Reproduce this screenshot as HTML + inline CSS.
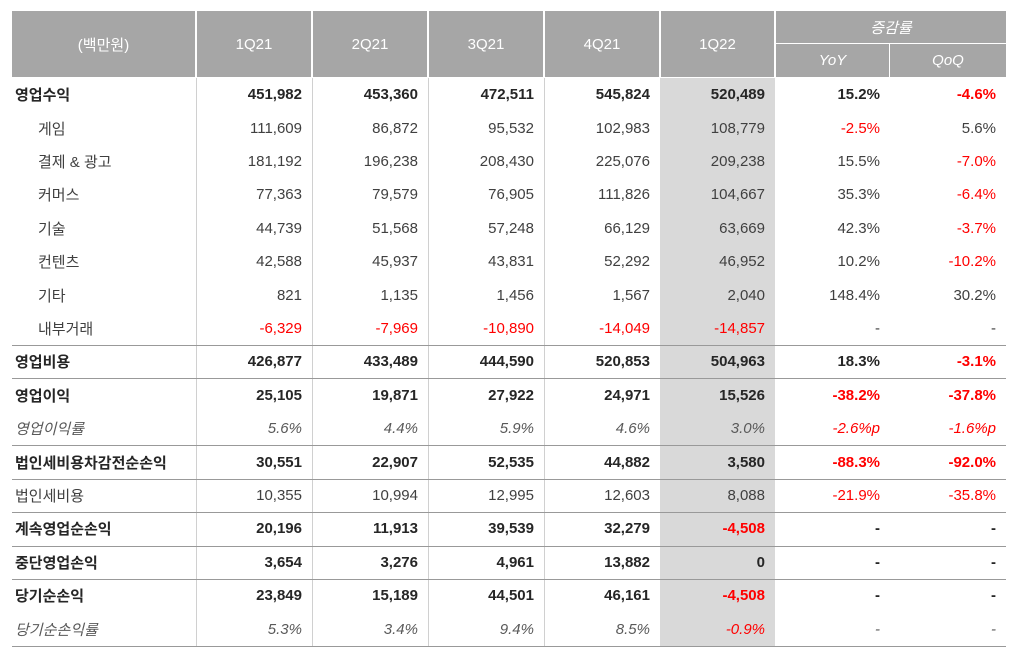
<!DOCTYPE html>
<html><head><meta charset="utf-8"><style>
body{margin:0;width:1013px;height:653px;background:#fff;font-family:"Liberation Sans","Noto Sans CJK KR",sans-serif;position:relative;overflow:hidden;color:#404040}
.hd{position:absolute;background:#a6a6a6;color:#fff;font-size:15px;display:flex;align-items:center;justify-content:center}
.gray{position:absolute;left:660px;top:78px;width:115px;height:568px;background:#d9d9d9}
.vl{position:absolute;top:78px;width:1px;height:568px;background:#d0d0d0}
.row{position:absolute;left:12px;width:994px;height:33.4px;display:flex;font-size:15px;align-items:center}
.row div{box-sizing:border-box;text-align:right;padding-right:10px}
.row div:first-child{width:184px;text-align:left;padding-left:3px}
.row div:nth-child(2),.row div:nth-child(3),.row div:nth-child(4),.row div:nth-child(5),.row div:nth-child(8){width:116px}
.row div:nth-child(6),.row div:nth-child(7){width:115px}
.b{font-weight:bold;color:#262626}
.s div:first-child{padding-left:26px}
.i{font-style:italic;color:#595959}
.r{color:#f00}
.hl{position:absolute;left:12px;width:994px;height:1px;background:#999}
</style></head><body>
<div class="hd" style="left:12px;top:11px;width:183px;height:66px">(백만원)</div>
<div class="hd" style="left:197px;top:11px;width:114px;height:66px">1Q21</div>
<div class="hd" style="left:313px;top:11px;width:114px;height:66px">2Q21</div>
<div class="hd" style="left:429px;top:11px;width:114px;height:66px">3Q21</div>
<div class="hd" style="left:545px;top:11px;width:114px;height:66px">4Q21</div>
<div class="hd" style="left:661px;top:11px;width:113px;height:66px">1Q22</div>
<div class="hd" style="left:776px;top:11px;width:230px;height:32px;font-style:italic">증감률</div>
<div class="hd" style="left:776px;top:44px;width:113px;height:33px;font-style:italic">YoY</div>
<div class="hd" style="left:890px;top:44px;width:116px;height:33px;font-style:italic">QoQ</div>
<div class="gray"></div>
<div class="vl" style="left:196px"></div><div class="vl" style="left:312px"></div><div class="vl" style="left:428px"></div><div class="vl" style="left:544px"></div>
<div class="row b" style="top:78px"><div>영업수익</div><div>451,982</div><div>453,360</div><div>472,511</div><div>545,824</div><div>520,489</div><div>15.2%</div><div class="r">-4.6%</div></div>
<div class="row s" style="top:111.4px"><div>게임</div><div>111,609</div><div>86,872</div><div>95,532</div><div>102,983</div><div>108,779</div><div class="r">-2.5%</div><div>5.6%</div></div>
<div class="row s" style="top:144.8px"><div>결제 &amp; 광고</div><div>181,192</div><div>196,238</div><div>208,430</div><div>225,076</div><div>209,238</div><div>15.5%</div><div class="r">-7.0%</div></div>
<div class="row s" style="top:178.2px"><div>커머스</div><div>77,363</div><div>79,579</div><div>76,905</div><div>111,826</div><div>104,667</div><div>35.3%</div><div class="r">-6.4%</div></div>
<div class="row s" style="top:211.6px"><div>기술</div><div>44,739</div><div>51,568</div><div>57,248</div><div>66,129</div><div>63,669</div><div>42.3%</div><div class="r">-3.7%</div></div>
<div class="row s" style="top:245px"><div>컨텐츠</div><div>42,588</div><div>45,937</div><div>43,831</div><div>52,292</div><div>46,952</div><div>10.2%</div><div class="r">-10.2%</div></div>
<div class="row s" style="top:278.4px"><div>기타</div><div>821</div><div>1,135</div><div>1,456</div><div>1,567</div><div>2,040</div><div>148.4%</div><div>30.2%</div></div>
<div class="row s" style="top:311.8px"><div>내부거래</div><div class="r">-6,329</div><div class="r">-7,969</div><div class="r">-10,890</div><div class="r">-14,049</div><div class="r">-14,857</div><div>-</div><div>-</div></div>
<div class="hl" style="top:345px"></div>
<div class="row b" style="top:345.2px"><div>영업비용</div><div>426,877</div><div>433,489</div><div>444,590</div><div>520,853</div><div>504,963</div><div>18.3%</div><div class="r">-3.1%</div></div>
<div class="hl" style="top:378px"></div>
<div class="row b" style="top:378.6px"><div>영업이익</div><div>25,105</div><div>19,871</div><div>27,922</div><div>24,971</div><div>15,526</div><div class="r">-38.2%</div><div class="r">-37.8%</div></div>
<div class="row i" style="top:412px"><div>영업이익률</div><div>5.6%</div><div>4.4%</div><div>5.9%</div><div>4.6%</div><div>3.0%</div><div class="r">-2.6%p</div><div class="r">-1.6%p</div></div>
<div class="hl" style="top:445px"></div>
<div class="row b" style="top:445.4px"><div>법인세비용차감전순손익</div><div>30,551</div><div>22,907</div><div>52,535</div><div>44,882</div><div>3,580</div><div class="r">-88.3%</div><div class="r">-92.0%</div></div>
<div class="hl" style="top:479px"></div>
<div class="row" style="top:478.8px"><div>법인세비용</div><div>10,355</div><div>10,994</div><div>12,995</div><div>12,603</div><div>8,088</div><div class="r">-21.9%</div><div class="r">-35.8%</div></div>
<div class="hl" style="top:512px"></div>
<div class="row b" style="top:512.2px"><div>계속영업순손익</div><div>20,196</div><div>11,913</div><div>39,539</div><div>32,279</div><div class="r">-4,508</div><div>-</div><div>-</div></div>
<div class="hl" style="top:546px"></div>
<div class="row b" style="top:545.6px"><div>중단영업손익</div><div>3,654</div><div>3,276</div><div>4,961</div><div>13,882</div><div>0</div><div>-</div><div>-</div></div>
<div class="hl" style="top:579px"></div>
<div class="row b" style="top:579px"><div>당기순손익</div><div>23,849</div><div>15,189</div><div>44,501</div><div>46,161</div><div class="r">-4,508</div><div>-</div><div>-</div></div>
<div class="row i" style="top:612.4px"><div>당기순손익률</div><div>5.3%</div><div>3.4%</div><div>9.4%</div><div>8.5%</div><div class="r">-0.9%</div><div>-</div><div>-</div></div>
<div class="hl" style="top:646px"></div>
</body></html>
